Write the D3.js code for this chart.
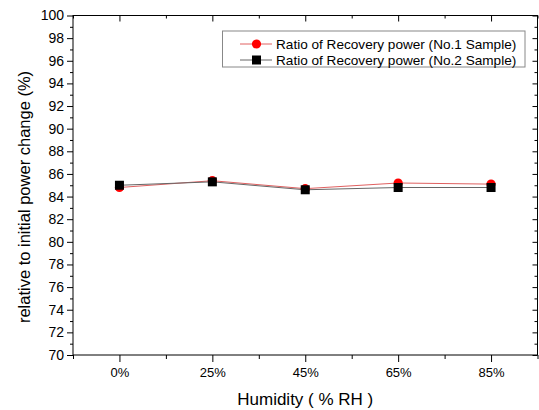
<!DOCTYPE html>
<html>
<head>
<meta charset="utf-8">
<script src="https://cdn.jsdelivr.net/npm/d3@7"></script>
<style>
  body { margin: 0; background: #fff; }
  svg text { font-family: "Liberation Sans", Arial, sans-serif; fill: #000; }
</style>
</head>
<body>
<div id="chart"></div>
<script>
// data
const categories = ["0%", "25%", "45%", "65%", "85%"];
const sample1 = [84.8, 85.4, 84.7, 85.2, 85.1];
const sample2 = [85.0, 85.3, 84.6, 84.8, 84.8];
const seriesNames = ["Ratio of Recovery power (No.1 Sample)", "Ratio of Recovery power (No.2 Sample)"];
const yTicks = d3.range(70, 101, 2);

const W = 539, H = 410;
const margin = { top: 15.5, right: 1.5, bottom: 55, left: 73 };
const width = W - margin.left - margin.right,
      height = H - margin.top - margin.bottom;

const svg = d3.select("#chart").append("svg")
  .attr("width", W).attr("height", H);

const g = svg.append("g")
  .attr("transform", `translate(${margin.left},${margin.top})`);

const x = d3.scaleLinear().domain([-0.5, categories.length - 0.5]).range([0, width]);
const y = d3.scaleLinear().domain([70, 100]).range([height, 0]);

// frame
g.append("rect")
  .attr("width", width).attr("height", height)
  .attr("fill", "none").attr("stroke", "#000").attr("stroke-width", 1);

// left axis: major outward ticks with labels, minor ticks
g.append("g")
  .call(d3.axisLeft(y).tickValues(yTicks).tickSize(6).tickPadding(3).tickFormat(d3.format("d")))
  .call(a => a.select(".domain").remove())
  .call(a => a.selectAll("text").attr("font-size", 14));
g.append("g")
  .call(d3.axisLeft(y).tickValues(d3.range(71, 100, 2)).tickSize(3).tickFormat(""))
  .call(a => a.select(".domain").remove());

// right axis: inward ticks
g.append("g").attr("transform", `translate(${width},0)`)
  .call(d3.axisRight(y).tickValues(yTicks).tickSize(-5).tickFormat(""))
  .call(a => a.select(".domain").remove());
g.append("g").attr("transform", `translate(${width},0)`)
  .call(d3.axisRight(y).tickValues(d3.range(71, 100, 2)).tickSize(-3).tickFormat(""))
  .call(a => a.select(".domain").remove());

// bottom axis: outward ticks
const idx = categories.map((_, i) => i);
g.append("g").attr("transform", `translate(0,${height})`)
  .call(d3.axisBottom(x).tickValues(idx).tickSize(7).tickPadding(6).tickFormat(i => categories[i]))
  .call(a => a.select(".domain").remove())
  .call(a => a.selectAll("text").attr("font-size", 13));
g.append("g").attr("transform", `translate(0,${height})`)
  .call(d3.axisBottom(x).tickValues(d3.range(-0.5, categories.length, 1)).tickSize(4).tickFormat(""))
  .call(a => a.select(".domain").remove());

// top axis: inward ticks
g.append("g")
  .call(d3.axisTop(x).tickValues(idx).tickSize(-6).tickFormat(""))
  .call(a => a.select(".domain").remove());
g.append("g")
  .call(d3.axisTop(x).tickValues(d3.range(-0.5, categories.length, 1)).tickSize(-3).tickFormat(""))
  .call(a => a.select(".domain").remove());

// axis titles
svg.append("text")
  .attr("x", margin.left + width / 2).attr("y", 405)
  .attr("text-anchor", "middle").attr("font-size", 17)
  .text("Humidity ( % RH )");
svg.append("text")
  .attr("transform", "translate(30,197) rotate(-90)")
  .attr("text-anchor", "middle").attr("font-size", 16.5)
  .text("relative to initial power change (%)");

// series
const line = d3.line().x((d, i) => x(i)).y(d => y(d));

g.append("path").datum(sample1)
  .attr("fill", "none").attr("stroke", "#e06060").attr("stroke-width", 1)
  .attr("d", line);
g.append("path").datum(sample2)
  .attr("fill", "none").attr("stroke", "#666").attr("stroke-width", 1)
  .attr("d", line);

g.selectAll("circle.s1").data(sample1).enter().append("circle")
  .attr("class", "s1")
  .attr("cx", (d, i) => x(i)).attr("cy", d => y(d))
  .attr("r", 4.6).attr("fill", "#ff0000");

const sq = 9;
g.selectAll("rect.s2").data(sample2).enter().append("rect")
  .attr("class", "s2")
  .attr("x", (d, i) => x(i) - sq / 2).attr("y", d => y(d) - sq / 2)
  .attr("width", sq).attr("height", sq).attr("fill", "#000");

// legend
const leg = svg.append("g");
leg.append("rect")
  .attr("x", 222.5).attr("y", 31).attr("width", 302.5).attr("height", 36)
  .attr("fill", "#fff").attr("stroke", "#888").attr("stroke-width", 1);

const legRows = [
  { name: seriesNames[0], color: "#e06060", mark: "circle" },
  { name: seriesNames[1], color: "#666", mark: "square" }
];
legRows.forEach((r, i) => {
  const ly = 44 + i * 16;
  leg.append("line")
    .attr("x1", 240).attr("x2", 272).attr("y1", ly).attr("y2", ly)
    .attr("stroke", r.color).attr("stroke-width", 1);
  if (r.mark === "circle") {
    leg.append("circle").attr("cx", 256.5).attr("cy", ly).attr("r", 4.6).attr("fill", "#ff0000");
  } else {
    leg.append("rect").attr("x", 256.5 - sq / 2).attr("y", ly - sq / 2)
      .attr("width", sq).attr("height", sq).attr("fill", "#000");
  }
  leg.append("text")
    .attr("x", 276).attr("y", ly + 4.8)
    .attr("font-size", 13.6)
    .text(r.name);
});
</script>
</body>
</html>
